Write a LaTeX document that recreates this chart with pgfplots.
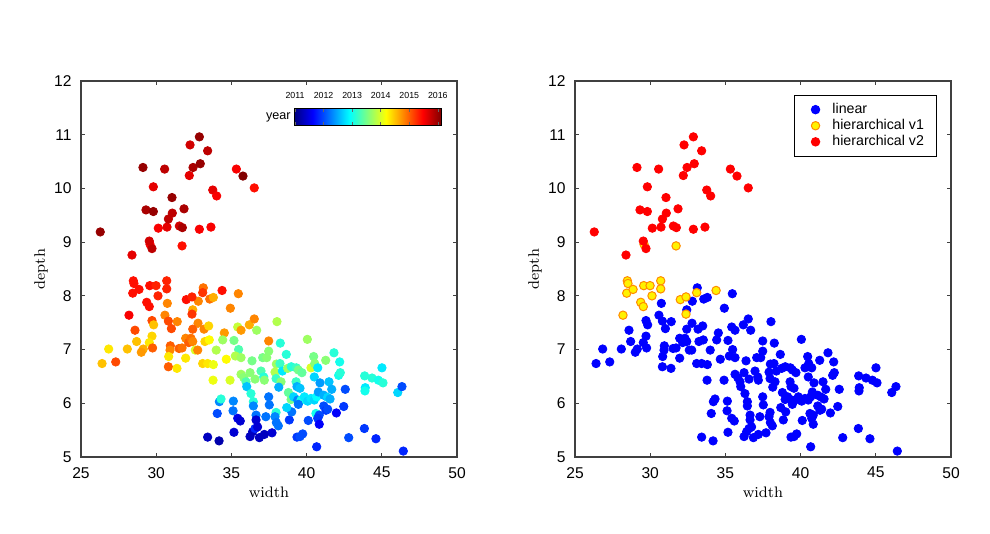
\documentclass[border=0pt]{standalone}
\usepackage{fontspec}
\setmainfont{Liberation Sans}
\newfontfamily\lmr{Latin Modern Roman}
\usepackage{pgfplots}
\pgfplotsset{compat=1.18}
\usepackage{pgfplotstable}

\pgfplotstableread{
x y year
26.28 9.19 2016.0
28.39 8.76 2015.6
29.72 8.88 2015.8
29.12 10.39 2016.0
29.32 9.60 2015.9
29.81 9.57 2016.0
29.81 10.03 2015.6
30.14 9.26 2015.5
30.56 10.36 2015.8
30.72 9.28 2015.6
30.81 9.43 2015.8
31.05 9.83 2016.0
31.07 9.54 2015.8
31.54 9.30 2015.7
31.74 9.27 2015.9
31.85 9.62 2015.9
32.20 10.24 2015.6
32.25 10.81 2015.7
32.45 10.39 2015.9
32.87 10.96 2016.0
32.93 10.46 2016.0
33.42 10.70 2015.8
32.87 9.24 2015.5
33.64 9.28 2015.5
33.76 9.97 2015.6
34.02 9.86 2015.5
35.33 10.36 2015.5
35.77 10.23 2016.1
36.52 10.01 2015.4
29.54 9.02 2015.7
}\tvtwo

\pgfplotstableread{
x y year
29.59 8.96 2015.5
31.72 8.93 2015.4
28.48 8.28 2015.4
28.52 8.23 2015.4
28.44 8.05 2015.4
28.86 8.12 2015.4
29.57 8.19 2015.4
29.99 8.19 2015.3
30.70 8.28 2015.3
30.70 8.13 2015.3
30.12 8.00 2015.3
29.37 7.88 2015.4
29.54 7.80 2015.4
28.19 7.64 2015.5
32.00 7.93 2015.4
32.38 7.98 2015.3
33.09 8.06 2015.2
34.38 8.10 2015.4
32.38 7.66 2015.2
}\tvone

\pgfplotstableread{
x y year
33.13 8.15 2014.9
35.46 8.04 2014.8
30.74 7.86 2014.8
32.80 7.90 2014.8
33.56 7.94 2014.9
33.80 7.97 2014.6
34.93 7.77 2014.8
32.43 7.74 2014.6
30.58 7.64 2014.8
29.72 7.54 2015.1
29.83 7.46 2014.5
30.81 7.53 2015.1
31.40 7.52 2014.8
31.01 7.39 2015.1
28.59 7.36 2015.1
32.78 7.49 2014.8
32.43 7.38 2015.0
33.18 7.38 2014.8
33.49 7.44 2014.4
34.53 7.31 2014.7
35.42 7.42 2013.9
35.64 7.36 2014.7
36.19 7.46 2014.6
36.52 7.57 2014.8
36.68 7.36 2013.7
28.70 7.15 2014.5
29.72 7.25 2014.4
29.54 7.13 2014.3
29.76 7.03 2015.0
29.14 7.01 2014.6
29.01 6.95 2014.7
26.84 7.01 2014.3
28.08 7.01 2014.5
26.40 6.74 2014.5
27.31 6.77 2015.1
30.94 7.07 2015.0
30.92 6.99 2014.8
30.83 6.87 2014.3
30.81 6.68 2015.0
31.38 6.65 2014.3
31.96 6.84 2014.3
31.52 7.02 2015.0
31.72 7.03 2014.9
31.96 7.21 2014.8
32.16 7.13 2015.0
32.31 7.21 2014.9
32.43 7.15 2014.8
32.60 6.99 2014.0
32.76 6.99 2014.8
33.24 7.15 2014.4
33.53 7.18 2014.2
33.99 6.99 2013.8
34.42 7.18 2013.7
35.17 7.17 2013.5
35.48 7.00 2013.3
35.26 6.88 2013.8
35.64 6.85 2013.7
34.66 6.82 2014.2
36.37 6.79 2013.5
37.08 6.85 2013.5
37.35 6.85 2013.6
37.48 6.97 2013.6
37.48 7.16 2014.8
33.09 6.74 2014.4
33.42 6.74 2014.3
33.80 6.72 2014.1
33.78 6.43 2014.1
34.91 6.43 2014.0
35.64 6.54 2013.7
35.82 6.48 2013.6
35.97 6.40 2013.3
36.02 6.31 2012.6
36.30 6.18 2013.1
36.24 6.57 2013.6
36.57 6.45 2013.6
36.97 6.60 2013.3
37.15 6.49 2013.1
37.19 6.43 2013.6
38.03 7.52 2013.8
38.25 7.12 2013.1
38.65 6.91 2013.1
40.05 7.19 2013.7
40.47 6.87 2013.5
41.27 6.80 2013.6
41.82 6.94 2013.1
42.20 6.77 2013.0
37.99 6.73 2013.7
38.23 6.74 2013.2
37.90 6.58 2013.8
38.39 6.60 2012.8
38.74 6.65 2013.7
38.98 6.68 2013.1
39.32 6.66 2013.2
39.45 6.62 2013.5
39.69 6.57 2013.4
40.29 6.66 2014.0
40.54 6.74 2013.6
40.74 6.66 2012.8
40.51 6.49 2012.7
40.89 6.38 2012.4
41.49 6.40 2012.6
41.67 6.26 2012.5
42.13 6.52 2013.0
42.24 6.57 2013.1
42.57 6.26 2012.0
43.86 6.51 2013.1
43.90 6.29 2012.8
43.88 6.23 2013.0
44.35 6.47 2013.1
44.77 6.43 2013.0
45.08 6.38 2013.1
45.01 6.66 2012.8
46.06 6.20 2012.7
46.34 6.31 2012.0
37.97 6.46 2013.2
38.30 6.40 2013.6
38.15 6.30 2012.5
38.79 6.20 2013.4
38.97 6.07 2013.5
39.30 6.40 2013.2
39.36 6.31 2012.5
39.56 6.28 2012.6
39.14 6.12 2012.7
39.41 6.06 2012.3
39.63 6.06 2013.0
39.85 6.12 2012.8
39.45 5.98 2012.2
40.07 6.04 2012.7
40.29 6.09 2012.8
40.51 6.06 2012.7
40.67 6.12 2012.9
40.78 6.21 2012.4
41.14 6.15 2012.5
41.40 6.11 2012.7
41.56 6.08 2012.5
42.47 5.94 2011.9
41.98 5.82 2011.6
41.14 5.95 2012.0
41.29 5.87 2011.9
41.40 5.89 2012.0
40.62 5.81 2013.0
40.84 5.78 2012.0
40.74 5.72 2011.9
40.84 5.61 2011.6
40.11 5.68 2012.0
38.85 5.69 2011.9
39.01 5.84 2012.2
38.68 5.92 2012.7
37.97 5.83 2013.1
37.90 5.75 2012.3
37.99 5.64 2012.2
38.12 5.58 2012.2
39.36 5.37 2011.9
39.56 5.38 2012.0
39.74 5.43 2012.0
40.67 5.19 2011.8
42.80 5.36 2012.0
43.84 5.53 2011.9
44.61 5.34 2011.8
46.43 5.11 2011.8
37.70 5.45 2011.4
37.48 6.12 2012.2
37.52 5.97 2012.2
37.29 5.75 2012.2
34.06 5.81 2012.0
34.20 6.03 2012.3
34.31 6.08 2013.1
35.13 6.04 2012.3
35.11 5.86 2012.2
35.42 5.72 2011.5
35.59 5.67 2011.4
36.46 6.03 2013.1
36.46 5.95 2012.3
36.64 5.78 2012.2
36.64 5.69 2011.4
33.42 5.37 2011.3
34.18 5.30 2011.2
35.17 5.46 2011.4
36.24 5.38 2011.3
36.41 5.47 2011.3
36.57 5.53 2011.8
36.74 5.56 2011.4
36.86 5.36 2011.3
37.19 5.42 2011.3
}\tlinear

\pgfplotsset{
  myaxis/.style={
    scale only axis, width=188pt, height=188pt,
    xmin=25, xmax=50, ymin=5, ymax=12,
    xtick={25,30,...,50}, ytick={5,6,...,12},
    tick align=inside, major tick length=2.2pt,
    axis line style={draw=black!75, line width=0.7pt},
    tick style={draw=black!75, line width=0.6pt},
    /pgf/number format/assume math mode=true,
    ticklabel style={font=\fontsize{7.8}{9}\selectfont},
    xticklabel style={yshift=-1.6pt},
    yticklabel style={xshift=-1.2pt},
    xlabel={\lmr width}, ylabel={\lmr depth},
    label style={font=\fontsize{7.6}{9}\selectfont},
    xlabel style={at={(axis description cs:0.5,-0.093)}, anchor=center},
    ylabel style={at={(axis description cs:-0.106,0.5)}, anchor=center},
  },
  scat/.style={only marks, scatter, mark=*, mark size=2.1pt,
    point meta=\thisrow{year},
    scatter/use mapped color={draw=mapped color, fill=mapped color}},
}
\definecolor{vorange}{rgb}{1,0.55,0}

\begin{document}
\begin{tikzpicture}
\path[use as bounding box] (0pt,0pt) rectangle (495pt,267pt);

\begin{axis}[myaxis, at={(40.5pt,38.5pt)}, anchor=south west,
  colormap/jet, point meta min=2010.98, point meta max=2016.11,
  colorbar horizontal,
  colorbar style={
    at={(parent axis.north east)}, anchor=north east,
    xshift=-8pt, yshift=-5.3pt,
    scale only axis, width=73.3pt, height=8.2pt,
    xticklabel pos=upper, xtick={2011,...,2016},
    xticklabel style={font=\fontsize{4.4}{5}\selectfont, yshift=1.6pt},
    /pgf/number format/1000 sep={},
    /pgf/number format/assume math mode=true,
    major tick length=1.5pt, tick align=inside,
    axis line style={draw=black, line width=0.5pt},
    tick style={draw=black!60, line width=0.3pt},
  }]
\addplot+[scat] table[x=x,y=y] {\tlinear};
\addplot+[scat] table[x=x,y=y] {\tvone};
\addplot+[scat] table[x=x,y=y] {\tvtwo};
\end{axis}
\node[anchor=east, font=\fontsize{6.3}{7}\selectfont, inner sep=0pt] at (145.5pt,208.4pt) {year};

\begin{axis}[myaxis, at={(287.5pt,38.5pt)}, anchor=south west,
  legend style={at={(0.963,0.963)}, anchor=north east, draw=black, line width=0.5pt,
    font=\fontsize{7.1}{8}\selectfont, row sep=-2.6pt, inner xsep=4.3pt, inner ysep=1.8pt},
  legend image code/.code={\path (-6pt,0pt) (6.2pt,0pt);
    \draw[mark repeat=2,mark phase=2,#1] plot coordinates {(-1pt,0pt)(0pt,0pt)(1pt,0pt)};},
  legend cell align=left]
\addplot[only marks, mark=*, mark size=2.1pt, draw=blue, fill=blue] table[x=x,y=y] {\tlinear};
\addlegendentry{linear}
\addplot[only marks, mark=*, mark size=2.1pt, draw=vorange, fill=yellow, mark options={line width=0.5pt}] table[x=x,y=y] {\tvone};
\addlegendentry{hierarchical v1}
\addplot[only marks, mark=*, mark size=2.1pt, draw=red, fill=red] table[x=x,y=y] {\tvtwo};
\addlegendentry{hierarchical v2}
\end{axis}
\end{tikzpicture}
\end{document}
